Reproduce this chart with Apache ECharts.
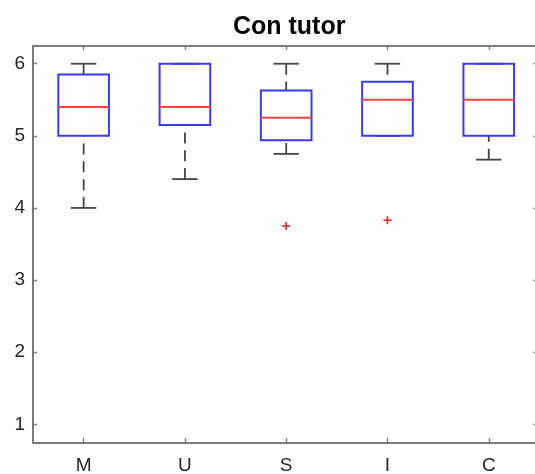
<!DOCTYPE html>
<html>
<head>
<meta charset="utf-8">
<script src="https://cdn.jsdelivr.net/npm/echarts@6/dist/echarts.min.js"></script>
<style>
html,body{margin:0;padding:0;background:#fff;}
#chart{width:535px;height:474px;}
</style>
</head>
<body>
<div id="chart"></div>
<script>
// ---- data ----
var titleText = 'Con tutor';
var categories = ['M', 'U', 'S', 'I', 'C'];
var whiskerLow = [4.0, 4.4, 4.75, 5.0, 4.67];
var q1 = [5.0, 5.15, 4.94, 5.0, 5.0];
var medians = [5.4, 5.4, 5.25, 5.5, 5.5];
var q3 = [5.85, 6.0, 5.63, 5.75, 6.0];
var whiskerHigh = [6.0, 6.0, 6.0, 6.0, 6.0];
var outlierCats = ['S', 'I'];
var outlierVals = [3.75, 3.83];
var yTicks = [1, 2, 3, 4, 5, 6];

var boxData = categories.map(function (c, i) {
  return [i, whiskerLow[i], q1[i], medians[i], q3[i], whiskerHigh[i]];
});
var outData = outlierCats.map(function (c, i) {
  return [categories.indexOf(c), outlierVals[i]];
});

var FONT = '"Liberation Sans", Arial, Helvetica, sans-serif';
var AXC = '#7c7c7c';
var chart = echarts.init(document.getElementById('chart'), null, {renderer: 'canvas'});

function renderBox(params, api) {
  var idx = api.value(0);
  var band = api.size([1, 0])[0];
  var cx = api.coord([idx, api.value(3)])[0];
  var yMin = api.coord([idx, api.value(1)])[1];
  var yQ1 = api.coord([idx, api.value(2)])[1];
  var yMed = api.coord([idx, api.value(3)])[1];
  var yQ3 = api.coord([idx, api.value(4)])[1];
  var yMax = api.coord([idx, api.value(5)])[1];
  var hb = band * 0.25, hc = band * 0.125;
  var wStyle = {stroke: '#454545', lineWidth: 1.8, lineDash: [11, 6.8]};
  var cStyle = {stroke: '#454545', lineWidth: 1.8};
  var children = [];
  if (yMin - yQ1 > 0.5) children.push({type: 'line', shape: {x1: cx, y1: yMin, x2: cx, y2: yQ1}, style: wStyle});
  if (yQ3 - yMax > 0.5) children.push({type: 'line', shape: {x1: cx, y1: yMax, x2: cx, y2: yQ3}, style: wStyle});
  children.push({type: 'line', shape: {x1: cx - hc, y1: yMin, x2: cx + hc, y2: yMin}, style: cStyle});
  children.push({type: 'line', shape: {x1: cx - hc, y1: yMax, x2: cx + hc, y2: yMax}, style: cStyle});
  children.push({type: 'rect', shape: {x: cx - hb, y: yQ3, width: 2 * hb, height: yQ1 - yQ3},
    style: {fill: 'rgba(0,0,0,0)', stroke: '#3a3aff', lineWidth: 2}});
  children.push({type: 'line', shape: {x1: cx - hb, y1: yMed, x2: cx + hb, y2: yMed},
    style: {stroke: '#ff4040', lineWidth: 2}});
  return {type: 'group', children: children};
}

function renderPlus(params, api) {
  var p = api.coord([api.value(0), api.value(1)]);
  var s = 4;
  var st = {stroke: '#ff2020', lineWidth: 1.6};
  return {type: 'group', children: [
    {type: 'line', shape: {x1: p[0] - s, y1: p[1], x2: p[0] + s, y2: p[1]}, style: st},
    {type: 'line', shape: {x1: p[0], y1: p[1] - s, x2: p[0], y2: p[1] + s}, style: st}
  ]};
}

var gridLeft = 33, gridWidth = 506.4, gridTop = 45.7, gridHeight = 396.6;
var axisCenter = gridLeft + gridWidth / 2 - 2;

chart.setOption({
  animation: false,
  backgroundColor: '#fff',
  title: {
    text: titleText,
    left: axisCenter,
    textAlign: 'center',
    top: 10,
    textStyle: {fontFamily: FONT, fontWeight: 'bold', fontSize: 25, color: '#000'}
  },
  grid: {left: gridLeft, width: gridWidth, top: gridTop, height: gridHeight,
    containLabel: false, outerBoundsMode: 'none'},
  xAxis: [{
    type: 'category', data: categories, position: 'bottom',
    axisLine: {show: true, lineStyle: {color: AXC, width: 2}},
    axisTick: {show: true, inside: true, length: 4, alignWithLabel: true, lineStyle: {color: AXC, width: 1.4}},
    axisLabel: {fontFamily: FONT, fontSize: 19, color: '#262626', margin: 14},
    splitLine: {show: false}
  }, {
    type: 'category', data: categories, position: 'top',
    axisLine: {show: true, lineStyle: {color: AXC, width: 2}},
    axisTick: {show: true, inside: true, length: 4, alignWithLabel: true, lineStyle: {color: AXC, width: 1.4}},
    axisLabel: {show: false},
    splitLine: {show: false}
  }],
  yAxis: [{
    type: 'value', min: 0.75, max: 6.25, position: 'left',
    axisLine: {show: true, lineStyle: {color: AXC, width: 2}},
    axisTick: {show: true, inside: true, length: 4, customValues: yTicks, lineStyle: {color: AXC, width: 1.4}},
    axisLabel: {fontFamily: FONT, fontSize: 19, color: '#262626', margin: 8, customValues: yTicks},
    splitLine: {show: false}
  }, {
    type: 'value', min: 0.75, max: 6.25, position: 'right',
    axisLine: {show: true, lineStyle: {color: AXC, width: 2}},
    axisTick: {show: true, inside: true, length: 6, customValues: yTicks, lineStyle: {color: AXC, width: 1.4}},
    axisLabel: {show: false},
    splitLine: {show: false}
  }],
  series: [{
    type: 'custom', xAxisIndex: 0, yAxisIndex: 0,
    renderItem: renderBox, data: boxData,
    encode: {x: 0, y: [1, 2, 3, 4, 5]}, clip: false
  }, {
    type: 'custom', xAxisIndex: 0, yAxisIndex: 0,
    renderItem: renderPlus, data: outData,
    encode: {x: 0, y: 1}
  }]
});
</script>
</body>
</html>
